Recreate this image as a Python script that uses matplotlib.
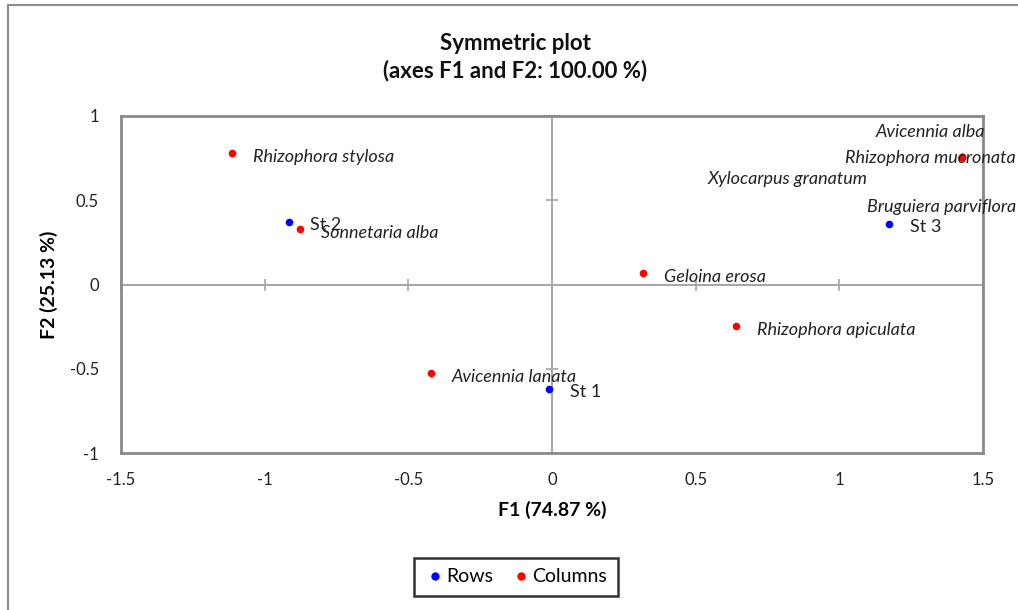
import matplotlib
matplotlib.use("Agg")
import matplotlib.pyplot as plt
from matplotlib.lines import Line2D
from matplotlib.patches import Rectangle

plt.rcParams['font.family'] = ['Lato', 'DejaVu Sans']
plt.rcParams['axes.unicode_minus'] = False

# Row points (stations)
row_labels = ["St 1", "St 2", "St 3"]
row_f1 = [-0.010, -0.915, 1.173]
row_f2 = [-0.620, 0.371, 0.359]

# Column points (species)
col_labels = ["Rhizophora stylosa", "Sonnetaria alba", "Geloina erosa",
              "Rhizophora apiculata", "Avicennia lanata", "Avicennia alba",
              "Rhizophora mucronata", "Xylocarpus granatum", "Bruguiera parviflora"]
col_f1 = [-1.114, -0.877, 0.317, 0.640, -0.421, 1.427, 1.427, 1.427, 1.427]
col_f2 = [0.780, 0.329, 0.068, -0.246, -0.525, 0.757, 0.757, 0.757, 0.757]

x_ticks = [-1.5, -1, -0.5, 0, 0.5, 1, 1.5]
y_ticks = [-1, -0.5, 0, 0.5, 1]

W, H = 1018, 610
fig = plt.figure(figsize=(W / 100, H / 100), dpi=100)
ax = fig.add_axes([121 / W, 1 - 453 / H, (983 - 121) / W, (453 - 116) / H])
ax.set_xlim(-1.5, 1.5)
ax.set_ylim(-1, 1)

for s in ax.spines.values():
    s.set_color('#8a8a8a')
    s.set_linewidth(2)

ax.set_xticks(x_ticks)
ax.set_xticklabels([f"{v:g}" for v in x_ticks])
ax.set_yticks(y_ticks)
ax.set_yticklabels([f"{v:g}" for v in y_ticks])
ax.tick_params(axis='both', length=0, labelsize=12, colors='#222222')
ax.tick_params(axis='x', pad=14)
ax.tick_params(axis='y', pad=16)

# Axes through the origin with their own cross ticks
ax.axhline(0, color='#a6a6a6', lw=1.4, zorder=1)
ax.axvline(0, color='#a6a6a6', lw=1.4, zorder=1)
xt = [v for v in x_ticks if v != 0]
yt = [v for v in y_ticks if v != 0]
ax.plot(xt, [0] * len(xt), ls='none', marker='|', ms=8, mew=1.2, color='#a6a6a6', zorder=1, clip_on=False)
ax.plot([0] * len(yt), yt, ls='none', marker='_', ms=8, mew=1.2, color='#a6a6a6', zorder=1, clip_on=False)

ax.scatter(col_f1, col_f2, s=30, color='#ff0000', zorder=3, linewidths=0)
ax.scatter(row_f1, row_f2, s=30, color='#0000ff', zorder=3, linewidths=0)

label_font = dict(fontsize=13, color='#222222', va='center')

# Label placement (pixel offsets from each point)
col_offsets = {
    "Avicennia alba": (23, 25, 'right'),
    "Rhizophora mucronata": (54, -1, 'right'),
    "Xylocarpus granatum": (-95, -22, 'right'),
    "Bruguiera parviflora": (54, -50, 'right'),
}
for name, x, y in zip(col_labels, col_f1, col_f2):
    dx, dy, ha = col_offsets.get(name, (21, -4, 'left'))
    ax.annotate(name, (x, y), xytext=(dx, dy), textcoords='offset pixels',
                ha=ha, style='italic', annotation_clip=False, **label_font)
for name, x, y in zip(row_labels, row_f1, row_f2):
    ax.annotate(name, (x, y), xytext=(21, -3), textcoords='offset pixels',
                ha='left', annotation_clip=False, **label_font)

ax.set_xlabel("F1 (74.87 %)", fontsize=14, fontweight='bold', labelpad=9)
ax.set_ylabel("F2 (25.13 %)", fontsize=14, fontweight='bold', labelpad=8)

fig.text(515 / W, 1 - 43 / H, "Symmetric plot", ha='center', va='center',
         fontsize=16, fontweight='bold', color='#111111')
fig.text(515 / W, 1 - 71 / H, "(axes F1 and F2: 100.00 %)", ha='center', va='center',
         fontsize=16, fontweight='bold', color='#111111')

handles = [Line2D([], [], ls='none', marker='o', ms=5, color='#0000ff', label='Rows'),
           Line2D([], [], ls='none', marker='o', ms=5, color='#ff0000', label='Columns')]
leg = fig.legend(handles=handles, loc='center', bbox_to_anchor=(516 / W, 1 - 577 / H),
                 ncol=2, fancybox=False, frameon=True, fontsize=14,
                 handletextpad=0.1, columnspacing=0.9, handlelength=1.0,
                 borderpad=0.55, borderaxespad=0)
leg.get_frame().set_edgecolor('black')
leg.get_frame().set_linewidth(1.8)

# Outer chart-area border
fig.patches.append(Rectangle((8 / W, -0.1), 1.2, 1 - 5 / H + 0.1, transform=fig.transFigure,
                             fill=False, edgecolor='#8c8c8c', lw=1.5))

fig.savefig("out.png", dpi=100)
